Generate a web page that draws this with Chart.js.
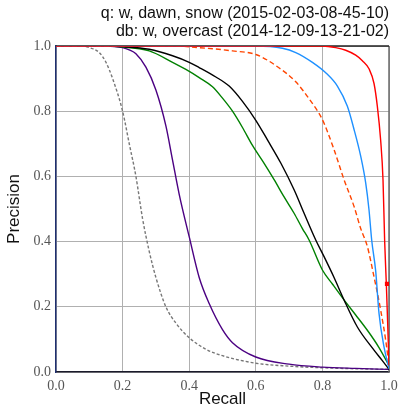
<!DOCTYPE html>
<html>
<head>
<meta charset="utf-8">
<script src="https://cdn.jsdelivr.net/npm/chart.js@4.4.1/dist/chart.umd.min.js"></script>
<style>
  html, body { margin: 0; padding: 0; background: #fff; }
  #wrap { width: 399px; height: 410px; position: relative; }
</style>
</head>
<body>
<div id="wrap"><canvas id="chart-pr"></canvas></div>
<script>
// precision / recall curves
var titleLines = ['q: w, dawn, snow (2015-02-03-08-45-10)', 'db: w, overcast (2014-12-09-13-21-02)'];
var tickValues = [0, 0.2, 0.4, 0.6, 0.8, 1.0];

var redR = [0, 0.8, 0.84, 0.87, 0.9, 0.92, 0.94, 0.955, 0.965, 0.975, 0.982, 0.987, 0.992, 0.996, 1.0];
var redP = [1, 1, 0.995, 0.987, 0.972, 0.955, 0.93, 0.885, 0.815, 0.71, 0.59, 0.4, 0.27, 0.15, 0.02];

var blueR = [0, 0.6, 0.68, 0.72, 0.77, 0.81, 0.845, 0.875, 0.895, 0.915, 0.93, 0.94, 0.948, 0.96, 0.97, 0.985, 1.0];
var blueP = [1, 1, 0.993, 0.98, 0.95, 0.918, 0.877, 0.815, 0.744, 0.662, 0.58, 0.497, 0.405, 0.31, 0.18, 0.077, 0.01];

var orangeR = [0, 0.35, 0.43, 0.53, 0.6, 0.66, 0.72, 0.76, 0.8, 0.835, 0.865, 0.895, 0.915, 0.935, 0.955, 0.975, 0.99, 1.0];
var orangeP = [1, 1, 0.995, 0.985, 0.974, 0.94, 0.89, 0.838, 0.774, 0.682, 0.59, 0.508, 0.44, 0.385, 0.292, 0.19, 0.098, 0.02];

var blackR = [0, 0.15, 0.2, 0.28, 0.35, 0.4, 0.43, 0.48, 0.52, 0.56, 0.6, 0.635, 0.675, 0.715, 0.745, 0.78, 0.805, 0.835, 0.865, 0.905, 0.955, 0.98, 1.0];
var blackP = [1, 1, 0.998, 0.99, 0.97, 0.95, 0.934, 0.905, 0.877, 0.83, 0.772, 0.712, 0.641, 0.559, 0.487, 0.405, 0.354, 0.29, 0.221, 0.138, 0.067, 0.035, 0.008];

var greenR = [0, 0.15, 0.19, 0.28, 0.35, 0.39, 0.43, 0.47, 0.5, 0.53, 0.56, 0.59, 0.625, 0.655, 0.685, 0.715, 0.74, 0.76, 0.8, 0.83, 0.865, 0.9, 0.935, 0.97, 1.0];
var greenP = [1, 1, 0.998, 0.985, 0.95, 0.928, 0.903, 0.875, 0.84, 0.8, 0.75, 0.695, 0.64, 0.59, 0.537, 0.487, 0.44, 0.405, 0.313, 0.27, 0.221, 0.175, 0.128, 0.075, 0.02];

var purpleR = [0, 0.15, 0.2, 0.22, 0.24, 0.27, 0.3, 0.33, 0.35, 0.37, 0.4, 0.43, 0.46, 0.5, 0.53, 0.6, 0.7, 0.8, 0.9, 1.0];
var purpleP = [1, 1, 0.995, 0.988, 0.976, 0.935, 0.865, 0.755, 0.65, 0.545, 0.415, 0.29, 0.21, 0.13, 0.09, 0.046, 0.024, 0.015, 0.011, 0.008];

var grayR = [0, 0.08, 0.1, 0.13, 0.15, 0.17, 0.2, 0.22, 0.24, 0.26, 0.28, 0.3, 0.33, 0.36, 0.4, 0.45, 0.5, 0.6, 0.7, 0.8, 0.9, 1.0];
var grayP = [1, 1, 0.995, 0.98, 0.95, 0.9, 0.8, 0.7, 0.6, 0.47, 0.37, 0.29, 0.2, 0.15, 0.105, 0.07, 0.05, 0.027, 0.018, 0.013, 0.01, 0.008];

var redMarkR = [0.994];
var redMarkP = [0.27];

function pts(rs, ps) {
    return rs.map(function (r, i) { return { x: r, y: ps[i] }; });
}

function curve(rs, ps, color, dash) {
    return {
        data: pts(rs, ps),
        showLine: true,
        borderColor: color,
        backgroundColor: color,
        borderWidth: 1.4,
        borderDash: dash || [],
        pointRadius: 0,
        cubicInterpolationMode: 'monotone',
        fill: false
    };
}

// right/top spines, matplotlib style
var frame = {
    id: 'frame',
    beforeDatasetsDraw: function (chart) {
        var a = chart.chartArea, ctx = chart.ctx;
        ctx.save();
        ctx.lineWidth = 1.5;
        ctx.strokeStyle = '#6a6a6a';
        ctx.beginPath();
        ctx.moveTo(a.right, a.top);
        ctx.lineTo(a.right, a.bottom);
        ctx.stroke();
        ctx.strokeStyle = '#222';
        ctx.beginPath();
        ctx.moveTo(a.left, a.top);
        ctx.lineTo(a.right, a.top);
        ctx.stroke();
        ctx.restore();
    }
};

var markSet = curve(redMarkR, redMarkP, '#ff0000');
markSet.showLine = false;
markSet.pointRadius = 2;
markSet.pointStyle = 'rect';

new Chart(document.getElementById('chart-pr'), {
    type: 'scatter',
    data: {
        datasets: [
            curve(redR, redP, '#ff0000'),
            markSet,
            curve(blueR, blueP, '#1e90ff'),
            curve(orangeR, orangeP, '#ff4500', [5, 3]),
            curve(blackR, blackP, '#000000'),
            curve(greenR, greenP, '#008000'),
            curve(purpleR, purpleP, '#4b0082'),
            curve(grayR, grayP, '#777777', [3, 2])
        ]
    },
    options: {
        responsive: true,
        maintainAspectRatio: false,
        animation: false,
        layout: { padding: { left: 4, right: 10, top: 0, bottom: 0 } },
        plugins: {
            legend: { display: false },
            tooltip: { enabled: false },
            title: {
                display: true,
                text: titleLines,
                align: 'end',
                color: '#111',
                font: { family: 'Liberation Sans', size: 16, weight: 'normal', lineHeight: 1.125 },
                padding: { top: 5, bottom: 5 }
            }
        },
        scales: {
            x: {
                type: 'linear',
                min: 0,
                max: 1,
                afterBuildTicks: function (s) { s.ticks = tickValues.map(function (v) { return { value: v }; }); },
                afterFit: function (s) { s.height = 38; s.paddingLeft = 0; s.paddingRight = 0; },
                grid: { color: '#b0b0b0', lineWidth: 1, drawTicks: false },
                border: { color: '#1a1a2a', width: 1.5 },
                ticks: {
                    padding: 6,
                    color: '#555',
                    font: { family: 'Liberation Serif', size: 14 },
                    callback: function (v) { return v.toFixed(1); }
                },
                title: {
                    display: true,
                    text: 'Recall',
                    color: '#111',
                    font: { family: 'Liberation Sans', size: 17 },
                    padding: { top: 0, bottom: 0 }
                }
            },
            y: {
                type: 'linear',
                min: 0,
                max: 1,
                afterBuildTicks: function (s) { s.ticks = tickValues.map(function (v) { return { value: v }; }); },
                afterFit: function (s) { s.width = 52; s.paddingTop = 0; s.paddingBottom = 0; },
                grid: { color: '#b0b0b0', lineWidth: 1, drawTicks: false },
                border: { color: '#1f2f6f', width: 1.5 },
                ticks: {
                    padding: 5,
                    color: '#555',
                    font: { family: 'Liberation Serif', size: 14 },
                    callback: function (v) { return v.toFixed(1); }
                },
                title: {
                    display: true,
                    text: 'Precision',
                    color: '#111',
                    font: { family: 'Liberation Sans', size: 17 },
                    padding: { top: 0, bottom: 2 }
                }
            }
        }
    },
    plugins: [frame]
});
</script>
</body>
</html>
